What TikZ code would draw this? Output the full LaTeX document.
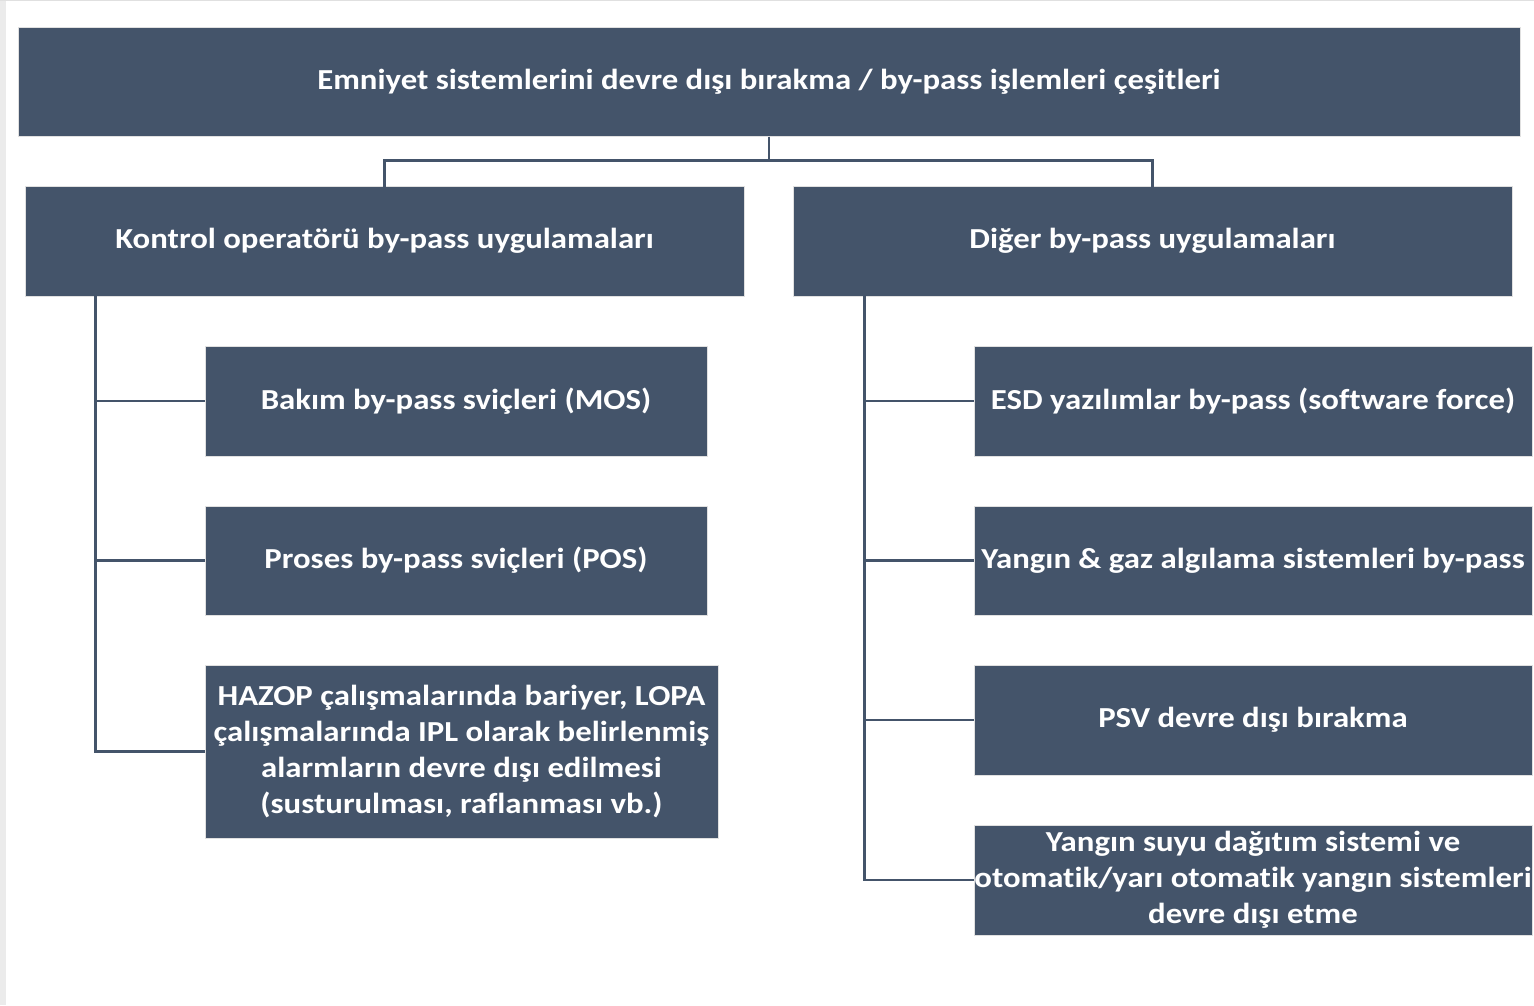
\documentclass[tikz,border=0pt]{standalone}
\usepackage{fontspec}
\setmainfont{Carlito}[FakeStretch=1.13, Ligatures={NoCommon}]
\usetikzlibrary{positioning}
\definecolor{slate}{HTML}{44546A}
\tikzset{
  box/.style={fill=slate, draw=black!12, line width=1pt, text=white, align=center,
    inner sep=0pt, font=\bfseries\fontsize{29}{36}\selectfont},
  link/.style={draw=slate, line width=2.6pt}
}
\begin{document}
\begin{tikzpicture}[x=1pt,y=-1pt]
        \useasboundingbox (0,0) rectangle (1534,1005);
        \fill[white] (0,0) rectangle (1534,1005);
        \fill[black!8] (0,0) rectangle (6,1005);
        \draw[black!12] (0,0.5) -- (1534,0.5);

        % Boxes
        \node[box, minimum width=1502, minimum height=109] (top) at (769,81.5)
            {Emniyet sistemlerini devre dışı bırakma / by-pass işlemleri çeşitleri};
        \node[box, minimum width=719, minimum height=110] (ctrl) at (384.5,241)
            {Kontrol operatörü by-pass uygulamaları};
        \node[box, minimum width=719, minimum height=110] (other) at (1152.5,241)
            {Diğer by-pass uygulamaları};

        \node[box, minimum width=502, minimum height=110] (mos) at (456,401)
            {Bakım by-pass sviçleri (MOS)};
        \node[box, minimum width=502, minimum height=109] (pos) at (456,560.5)
            {Proses by-pass sviçleri (POS)};
        \node[box, minimum width=513, minimum height=173] (hazop) at (461.5,751.5)
            {HAZOP çalışmalarında bariyer, LOPA\\çalışmalarında IPL olarak belirlenmiş\\alarmların devre dışı edilmesi\\(susturulması, raflanması vb.)};

        \node[box, minimum width=558, minimum height=110] (esd) at (1253,401)
            {ESD yazılımlar by-pass (software force)};
        \node[box, minimum width=558, minimum height=109] (fgs) at (1253,560.5)
            {Yangın \& gaz algılama sistemleri by-pass};
        \node[box, minimum width=558, minimum height=110] (psv) at (1253,720)
            {PSV devre dışı bırakma};
        \node[box, minimum width=558, minimum height=110] (water) at (1253,880)
            {Yangın suyu dağıtım sistemi ve\\otomatik/yarı otomatik yangın sistemleri\\devre dışı etme};

        % Edges
        \draw[link] (top.south) -- ++(0,24) coordinate (split);
        \draw[link] (split) -| ([yshift=-3]ctrl.north);
        \draw[link] (split) -| ([yshift=-3]other.north);

        \coordinate (ltrunk) at ([xshift=71,yshift=2]ctrl.south west);
        \coordinate (rtrunk) at ([xshift=72,yshift=2]other.south west);
        \draw[link] (ltrunk) |- (hazop.west);
        \draw[link] (rtrunk) |- (water.west);

        \foreach \n in {mos, pos}
            \draw[link] (\n.west) -- (\n.west -| ltrunk);
        \foreach \n in {esd, fgs, psv}
            \draw[link] (\n.west) -- (\n.west -| rtrunk);
\end{tikzpicture}
\end{document}
